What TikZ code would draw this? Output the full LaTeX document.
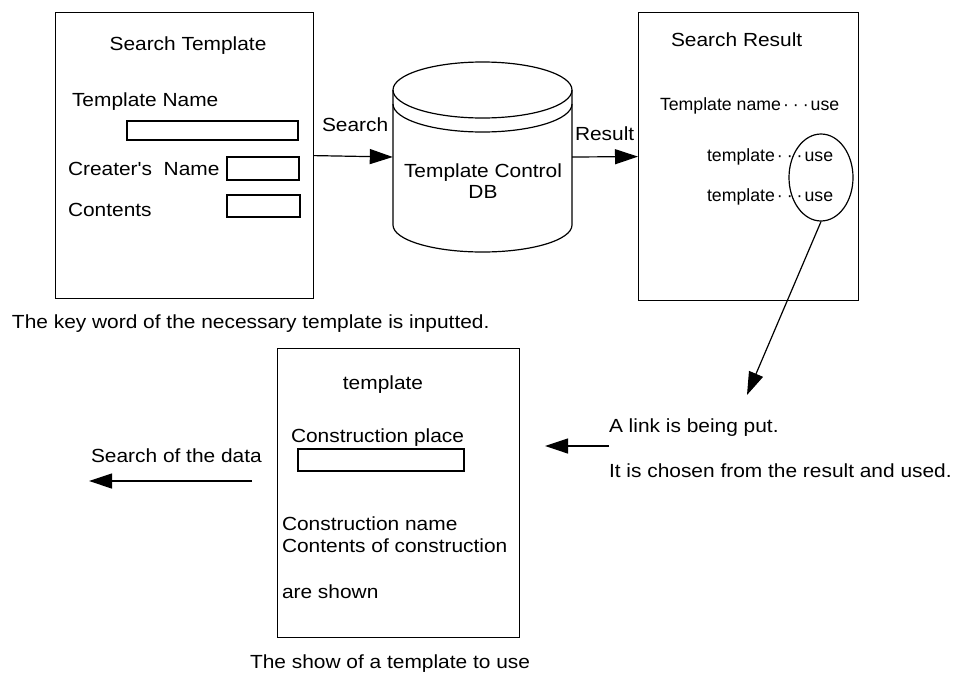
\documentclass[tikz,border=0pt]{standalone}
\usepackage{fontspec}
\setmainfont{Liberation Sans}[FakeStretch=1.1, Ligatures=TeXOff]
\newfontfamily\narrowfont{Liberation Sans}
\usetikzlibrary{arrows.meta,shapes.geometric}
\tikzset{
  lbl/.style={inner sep=0pt, outer sep=0pt, font=\fontsize{19}{22}\selectfont},
  rlbl/.style={inner sep=0pt, outer sep=0pt, font=\narrowfont\fontsize{17.7}{21}\selectfont},
  frame/.style={draw, line width=1.2pt, inner sep=0pt, anchor=north west},
  field/.style={draw, line width=1.2pt},
  arr/.style={line width=1.2pt, -{Triangle[length=23pt,width=15pt]}},
  plain/.style={line width=1.2pt}
}
\newcommand{\tdots}{\makebox[0.56em]{\textperiodcentered}\makebox[0.56em]{\textperiodcentered}\makebox[0.56em]{\textperiodcentered}}
\begin{document}
\begin{tikzpicture}[x=1pt,y=-1pt]
\useasboundingbox (0,0) rectangle (955,672);

% Search Template box
\node[frame, minimum width=258pt, minimum height=286pt] (st) at (55,12) {};
\node[lbl, anchor=base] (stt) at (188,50) {Search Template};
\node[lbl, anchor=base west] (tn) at (72,106) {Template Name};
\draw[field] (127,121) rectangle (298,140);
\node[lbl, anchor=base west] (cn) at (68,175) {Creater's\ \ Name};
\draw[field] (227,157) rectangle (299,180);
\node[lbl, anchor=base west] (ct) at (68,216.5) {Contents};
\draw[field] (227,195) rectangle (300,217);
\node[lbl, anchor=base west] (kw) at (12,328) {The key word of the necessary template is inputted.};

% Database cylinder
\node[minimum width=179pt, minimum height=190pt, inner sep=0pt] (db) at (482.5,157) {};
\draw[plain] (482.5,90) ellipse [x radius=89.5, y radius=28];
\draw[plain] (393,104) arc [start angle=180, end angle=0, x radius=89.5, y radius=28];
\draw[plain] (393,90) -- (393,225) arc [start angle=180, end angle=0, x radius=89.5, y radius=27] -- (572,90);
\node[lbl, anchor=base] (dbt) at (483,177) {Template Control};
\node[lbl, anchor=base] (dbt2) at (483,198) {DB};

% Search Result box
\node[frame, minimum width=220pt, minimum height=288pt] (sr) at (638,12) {};
\node[lbl, anchor=base west] (srt) at (671,46.5) {Search Result};
\node[rlbl, anchor=base west] (r1) at (660,110) {Template name\tdots use};
\node[rlbl, anchor=base west] (r2) at (707,161) {template\tdots use};
\node[rlbl, anchor=base west] (r3) at (707,201.5) {template\tdots use};
\node[draw, ellipse, line width=1.2pt, minimum width=64pt, minimum height=87pt, inner sep=0pt] (el) at (821,177.5) {};

% Connectors
\draw[arr] (st.east) -- (db.west);
\node[lbl, anchor=base west] (srch) at (322,131) {Search};
\draw[arr] (db.east) -- (sr.west);
\node[lbl, anchor=base west] (res) at (575,140) {Result};

\coordinate (tip) at (747,395);
\draw[arr] (el.south) -- (tip);

% Bottom template box
\node[frame, minimum width=242pt, minimum height=289pt] (tb) at (277,348) {};
\node[lbl, anchor=base] (tbt) at (383,389) {template};
\node[lbl, anchor=base west] (cp) at (291,442) {Construction place};
\draw[field] (298,449) rectangle (464,471);
\node[lbl, anchor=base west] (cnm) at (282,530) {Construction name};
\node[lbl, anchor=base west] (coc) at (282,552) {Contents of construction};
\node[lbl, anchor=base west] (as) at (282,598) {are shown};
\node[lbl, anchor=base] (show) at (390,668) {The show of a template to use};

% Right texts
\node[lbl, anchor=base west] (lk) at (609,432) {A link is being put.};
\node[lbl, anchor=base west] (ch) at (609,477) {It is chosen from the result and used.};
\coordinate (a1s) at (609,446);
\coordinate (a1e) at (545,446);
\draw[arr] (a1s) -- (a1e);

% Left text
\node[lbl, anchor=base west] (sd) at (91,462) {Search of the data};
\coordinate (a2s) at (252,481);
\coordinate (a2e) at (89,481);
\draw[arr] (a2s) -- (a2e);
\end{tikzpicture}
\end{document}
